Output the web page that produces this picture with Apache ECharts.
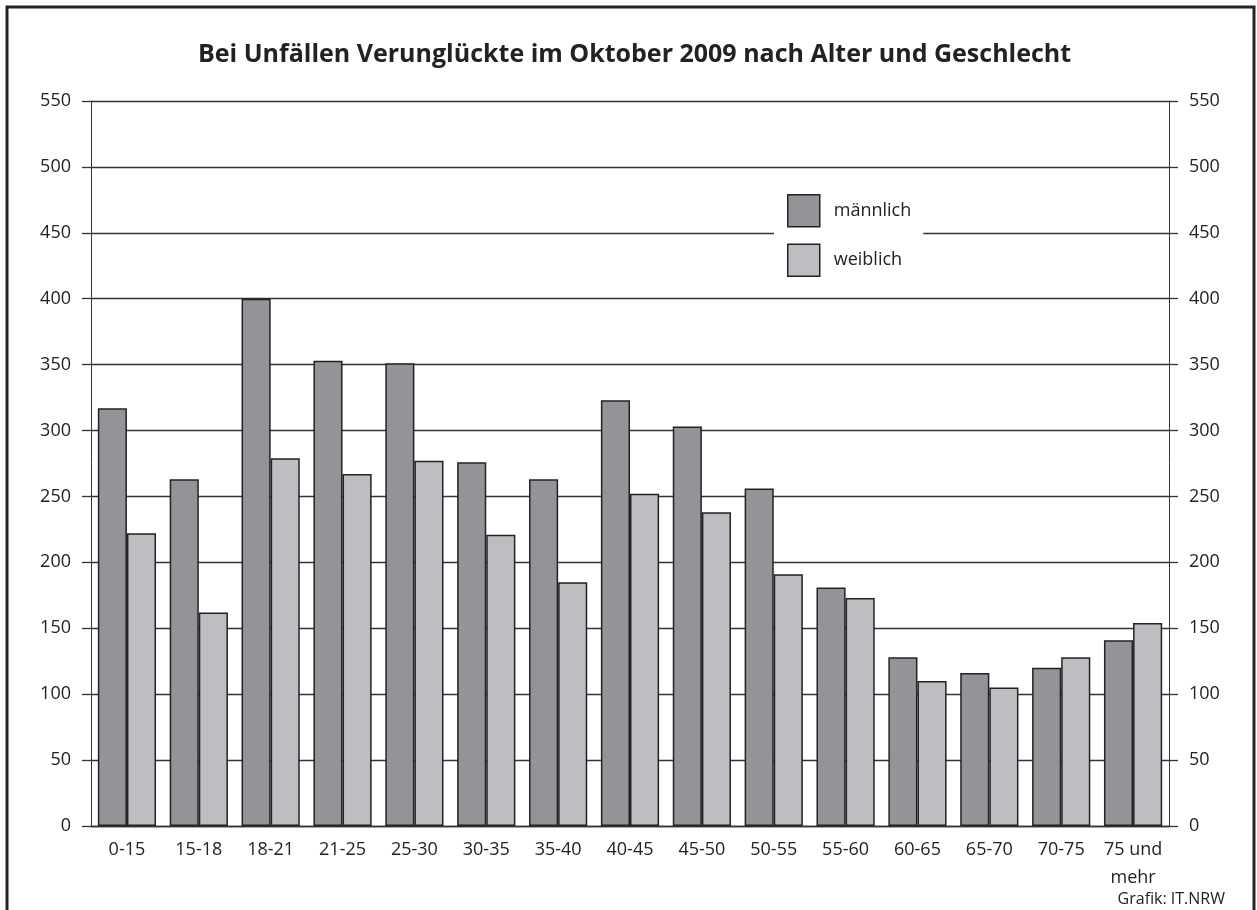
<!DOCTYPE html>
<html>
<head>
    <title>Bei Unfällen Verunglückte im Oktober 2009</title>
    <meta charset="utf-8">
    <script src="https://cdn.jsdelivr.net/npm/echarts@6/dist/echarts.min.js"></script>
    <style>
        html, body { margin: 0; padding: 0; background: #fff; }
    </style>
</head>
<body>
    <div id="main" style="width: 1257px;height:910px;"></div>

    <script type="text/javascript">
        // age groups
        var ageGroups = ['0-15', '15-18', '18-21', '21-25', '25-30', '30-35', '35-40', '40-45',
            '45-50', '50-55', '55-60', '60-65', '65-70', '70-75', '75 und\nmehr'];

        // casualties per group
        var maleValues = [317, 263, 400, 353, 351, 276, 263, 323, 303, 256, 181, 128, 116, 120, 141];
        var femaleValues = [222, 162, 279, 267, 277, 221, 185, 252, 238, 191, 173, 110, 105, 128, 154];

        var yTicks = [0, 50, 100, 150, 200, 250, 300, 350, 400, 450, 500, 550];

        var myChart = echarts.init(document.getElementById('main'));

        var font = 'Open Sans';
        var ink = '#222';

        var yAxisBase = {
            type: 'value',
            min: yTicks[0],
            max: yTicks[yTicks.length - 1],
            interval: yTicks[1] - yTicks[0],
            axisLine: { show: true, lineStyle: { color: '#333', width: 1 } },
            axisTick: { show: true, length: 9, lineStyle: { color: '#333', width: 1.3 } },
            // labels sit a little above their tick in the original
            axisLabel: {
                color: ink, fontSize: 18, fontFamily: font, margin: 20,
                verticalAlign: 'middle', lineHeight: 18, padding: [0, 0, 8, 0]
            }
        };

        var option = {
            animation: false,
            backgroundColor: '#fff',
            title: {
                text: 'Bei Unfällen Verunglückte im Oktober 2009 nach Alter und Geschlecht',
                left: 193,
                top: 37,
                textStyle: { fontFamily: font, fontWeight: 'bold', fontSize: 25, color: ink }
            },
            legend: {
                orient: 'vertical',
                left: 774,
                top: 181,
                padding: [13, 12, 13, 13],
                backgroundColor: '#fff',
                itemWidth: 32,
                itemHeight: 32,
                itemGap: 16,
                icon: 'rect',
                itemStyle: { borderColor: ink, borderWidth: 1.5 },
                textStyle: { fontFamily: font, fontSize: 18, color: ink, padding: [0, 0, 0, 9] },
                data: ['männlich', 'weiblich']
            },
            grid: {
                left: 91,
                right: 88,
                top: 101,
                bottom: 84
            },
            xAxis: {
                type: 'category',
                data: ageGroups,
                axisLine: { show: true, lineStyle: { color: '#333', width: 1.3 } },
                axisTick: { show: false },
                axisLabel: {
                    color: ink, fontSize: 18, fontFamily: font, margin: 10,
                    lineHeight: 28, interval: 0
                }
            },
            yAxis: [
                echarts.util.merge({
                    position: 'left',
                    splitLine: { show: true, lineStyle: { color: '#333', width: 1.3 } }
                }, yAxisBase, true),
                echarts.util.merge({
                    position: 'right',
                    splitLine: { show: false }
                }, yAxisBase, true)
            ],
            graphic: [
                {
                    type: 'rect',
                    shape: { x: 7, y: 7, width: 1247, height: 940 },
                    style: { fill: 'none', stroke: ink, lineWidth: 3 },
                    silent: true
                },
                {
                    type: 'text',
                    style: {
                        text: 'Grafik: IT.NRW', x: 1225, y: 899,
                        align: 'right', verticalAlign: 'middle',
                        fill: ink, font: '16px "Open Sans"'
                    }
                }
            ],
            series: [
                {
                    name: 'männlich',
                    type: 'bar',
                    data: maleValues,
                    barGap: '0%',
                    barCategoryGap: '19%',
                    itemStyle: { color: '#939498', borderColor: ink, borderWidth: 1.5 }
                },
                {
                    name: 'weiblich',
                    type: 'bar',
                    data: femaleValues,
                    itemStyle: { color: '#bdbec2', borderColor: ink, borderWidth: 1.5 }
                }
            ]
        };

        myChart.setOption(option);
    </script>
</body>
</html>
